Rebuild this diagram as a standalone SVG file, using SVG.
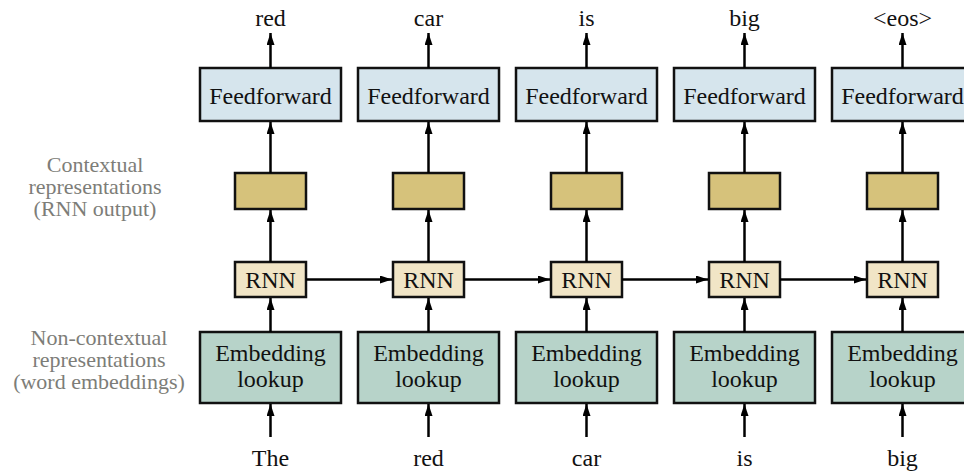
<svg xmlns="http://www.w3.org/2000/svg" width="964" height="472" viewBox="0 0 964 472">
<defs>
<marker id="ah" viewBox="0 0 12 8" refX="12" refY="4" markerWidth="12" markerHeight="8" markerUnits="userSpaceOnUse" orient="auto">
<path d="M0,0 L12,4 L0,8 Z" fill="#000"/>
</marker>
</defs>
<style>
text{font-family:"Liberation Serif","Times New Roman",serif;font-size:24px;fill:#111;text-anchor:middle}
.side{fill:#7d7d78;font-size:22px}
.ff{fill:#d6e5ed;stroke:#111;stroke-width:2.5}
.ctx{fill:#d6c27b;stroke:#111;stroke-width:2.5}
.rnn{fill:#f1e5c6;stroke:#111;stroke-width:2.5}
.emb{fill:#b7d3c9;stroke:#111;stroke-width:2.5}
.c line{stroke:#000;stroke-width:2.5;marker-end:url(#ah)}
</style>
<rect width="964" height="472" fill="#fff"/>
<g id="labels">
<text class="side" x="95" y="172">Contextual</text>
<text class="side" x="95" y="194">representations</text>
<text class="side" x="95" y="216">(RNN output)</text>
<text class="side" x="99" y="345">Non-contextual</text>
<text class="side" x="99" y="367">representations</text>
<text class="side" x="99" y="389">(word embeddings)</text>
</g>
<g id="col1">
<text x="270.5" y="26">red</text>
<rect class="ff" x="200" y="68" width="141" height="53"/><text x="270.5" y="104">Feedforward</text>
<rect class="ctx" x="235" y="173" width="71" height="36"/>
<rect class="rnn" x="235" y="262" width="71" height="35"/><text x="270.5" y="288">RNN</text>
<rect class="emb" x="200" y="332" width="141" height="71"/><text x="270.5" y="361">Embedding</text><text x="270.5" y="387">lookup</text>
<text x="270.5" y="466">The</text>
</g>
<g id="col2">
<text x="428.5" y="26">car</text>
<rect class="ff" x="358" y="68" width="141" height="53"/><text x="428.5" y="104">Feedforward</text>
<rect class="ctx" x="393" y="173" width="71" height="36"/>
<rect class="rnn" x="393" y="262" width="71" height="35"/><text x="428.5" y="288">RNN</text>
<rect class="emb" x="358" y="332" width="141" height="71"/><text x="428.5" y="361">Embedding</text><text x="428.5" y="387">lookup</text>
<text x="428.5" y="466">red</text>
</g>
<g id="col3">
<text x="586.5" y="26">is</text>
<rect class="ff" x="516" y="68" width="141" height="53"/><text x="586.5" y="104">Feedforward</text>
<rect class="ctx" x="551" y="173" width="71" height="36"/>
<rect class="rnn" x="551" y="262" width="71" height="35"/><text x="586.5" y="288">RNN</text>
<rect class="emb" x="516" y="332" width="141" height="71"/><text x="586.5" y="361">Embedding</text><text x="586.5" y="387">lookup</text>
<text x="586.5" y="466">car</text>
</g>
<g id="col4">
<text x="744.5" y="26">big</text>
<rect class="ff" x="674" y="68" width="141" height="53"/><text x="744.5" y="104">Feedforward</text>
<rect class="ctx" x="709" y="173" width="71" height="36"/>
<rect class="rnn" x="709" y="262" width="71" height="35"/><text x="744.5" y="288">RNN</text>
<rect class="emb" x="674" y="332" width="141" height="71"/><text x="744.5" y="361">Embedding</text><text x="744.5" y="387">lookup</text>
<text x="744.5" y="466">is</text>
</g>
<g id="col5">
<text x="902.5" y="26">&lt;eos&gt;</text>
<rect class="ff" x="832" y="68" width="141" height="53"/><text x="902.5" y="104">Feedforward</text>
<rect class="ctx" x="867" y="173" width="71" height="36"/>
<rect class="rnn" x="867" y="262" width="71" height="35"/><text x="902.5" y="288">RNN</text>
<rect class="emb" x="832" y="332" width="141" height="71"/><text x="902.5" y="361">Embedding</text><text x="902.5" y="387">lookup</text>
<text x="902.5" y="466">big</text>
</g>
<g id="connectors" class="c">
<line x1="270.5" y1="437" x2="270.5" y2="404"/>
<line x1="270.5" y1="332" x2="270.5" y2="298"/>
<line x1="270.5" y1="262" x2="270.5" y2="210"/>
<line x1="270.5" y1="173" x2="270.5" y2="122"/>
<line x1="270.5" y1="68" x2="270.5" y2="33"/>
<line x1="428.5" y1="437" x2="428.5" y2="404"/>
<line x1="428.5" y1="332" x2="428.5" y2="298"/>
<line x1="428.5" y1="262" x2="428.5" y2="210"/>
<line x1="428.5" y1="173" x2="428.5" y2="122"/>
<line x1="428.5" y1="68" x2="428.5" y2="33"/>
<line x1="586.5" y1="437" x2="586.5" y2="404"/>
<line x1="586.5" y1="332" x2="586.5" y2="298"/>
<line x1="586.5" y1="262" x2="586.5" y2="210"/>
<line x1="586.5" y1="173" x2="586.5" y2="122"/>
<line x1="586.5" y1="68" x2="586.5" y2="33"/>
<line x1="744.5" y1="437" x2="744.5" y2="404"/>
<line x1="744.5" y1="332" x2="744.5" y2="298"/>
<line x1="744.5" y1="262" x2="744.5" y2="210"/>
<line x1="744.5" y1="173" x2="744.5" y2="122"/>
<line x1="744.5" y1="68" x2="744.5" y2="33"/>
<line x1="902.5" y1="437" x2="902.5" y2="404"/>
<line x1="902.5" y1="332" x2="902.5" y2="298"/>
<line x1="902.5" y1="262" x2="902.5" y2="210"/>
<line x1="902.5" y1="173" x2="902.5" y2="122"/>
<line x1="902.5" y1="68" x2="902.5" y2="33"/>
<line x1="306" y1="279.5" x2="392" y2="279.5"/>
<line x1="464" y1="279.5" x2="550" y2="279.5"/>
<line x1="622" y1="279.5" x2="708" y2="279.5"/>
<line x1="780" y1="279.5" x2="866" y2="279.5"/>
</g>
</svg>
